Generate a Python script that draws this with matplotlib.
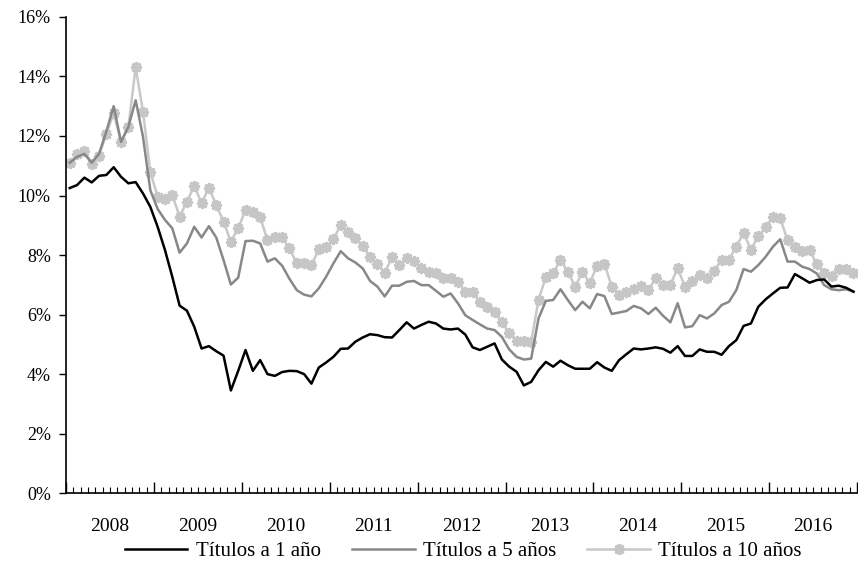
# Imports
import numpy as np
import matplotlib
matplotlib.use('Agg')
import matplotlib.pyplot as plt
import matplotlib.transforms as mtransforms
from matplotlib.ticker import FixedLocator, FuncFormatter

# Data (monthly, Jan 2008 - Dec 2016, %)
years = ['2008', '2009', '2010', '2011', '2012', '2013', '2014', '2015', '2016']

uno = [10.25, 10.35, 10.6, 10.44, 10.66, 10.69, 10.95, 10.63, 10.41, 10.45, 10.07, 9.62,
       8.95, 8.17, 7.27, 6.3, 6.13, 5.59, 4.86, 4.94, 4.77, 4.62, 3.45, 4.11,
       4.81, 4.11, 4.47, 4.0, 3.94, 4.07, 4.11, 4.10, 4.0, 3.68, 4.22, 4.39,
       4.58, 4.85, 4.86, 5.09, 5.23, 5.34, 5.31, 5.24, 5.23, 5.48, 5.74, 5.53,
       5.65, 5.76, 5.70, 5.53, 5.50, 5.53, 5.33, 4.90, 4.81, 4.92, 5.03, 4.49,
       4.25, 4.08, 3.62, 3.74, 4.13, 4.41, 4.25, 4.45, 4.30, 4.18, 4.18, 4.18,
       4.40, 4.22, 4.11, 4.47, 4.67, 4.86, 4.83, 4.86, 4.90, 4.85, 4.72, 4.94,
       4.61, 4.61, 4.83, 4.75, 4.75, 4.65, 4.94, 5.14, 5.62, 5.70, 6.26, 6.51,
       6.71, 6.90, 6.91, 7.36, 7.22, 7.07, 7.16, 7.18, 6.94, 6.97, 6.90, 6.77]

cinco = [11.1, 11.3, 11.4, 11.1, 11.4, 12.15, 13.0, 11.8, 12.3, 13.2, 11.98, 10.18,
         9.55, 9.18, 8.9, 8.08, 8.39, 8.95, 8.59, 8.97, 8.59, 7.83, 7.01, 7.24,
         8.47, 8.48, 8.39, 7.78, 7.89, 7.64, 7.2, 6.82, 6.67, 6.61, 6.88, 7.27,
         7.72, 8.13, 7.89, 7.75, 7.55, 7.13, 6.94, 6.61, 6.97, 6.97, 7.10, 7.13,
         6.99, 6.99, 6.80, 6.60, 6.71, 6.38, 5.98, 5.82, 5.67, 5.53, 5.48, 5.25,
         4.83, 4.58, 4.49, 4.52, 5.87, 6.46, 6.49, 6.85, 6.49, 6.15, 6.43, 6.21,
         6.69, 6.62, 6.02, 6.07, 6.12, 6.29, 6.21, 6.02, 6.23, 5.96, 5.74, 6.38,
         5.57, 5.61, 5.98, 5.87, 6.04, 6.32, 6.43, 6.82, 7.53, 7.44, 7.66, 7.94,
         8.28, 8.53, 7.78, 7.78, 7.61, 7.53, 7.38, 6.99, 6.85, 6.82, 6.85, 6.77]

diez = [11.08, 11.38, 11.51, 11.06, 11.34, 12.07, 12.76, 11.81, 12.29, 14.31, 12.82, 10.8,
        9.96, 9.87, 10.02, 9.29, 9.79, 10.33, 9.74, 10.26, 9.68, 9.12, 8.45, 8.9,
        9.51, 9.46, 9.27, 8.5, 8.62, 8.59, 8.22, 7.72, 7.72, 7.66, 8.19, 8.26,
        8.53, 9.01, 8.78, 8.56, 8.30, 7.94, 7.70, 7.41, 7.92, 7.66, 7.89, 7.80,
        7.55, 7.44, 7.41, 7.22, 7.24, 7.10, 6.77, 6.77, 6.41, 6.26, 6.09, 5.76,
        5.37, 5.12, 5.1, 5.09, 6.49, 7.27, 7.38, 7.85, 7.44, 6.94, 7.42, 7.07,
        7.63, 7.70, 6.94, 6.66, 6.77, 6.85, 6.96, 6.82, 7.22, 6.99, 7.01, 7.55,
        6.94, 7.13, 7.33, 7.22, 7.47, 7.85, 7.85, 8.28, 8.75, 8.17, 8.64, 8.93,
        9.29, 9.23, 8.50, 8.26, 8.15, 8.17, 7.69, 7.41, 7.29, 7.53, 7.53, 7.38]

labels = ['Títulos a 1 año', 'Títulos a 5 años', 'Títulos a 10 años']

# Style
plt.rcParams['font.family'] = ['Liberation Serif', 'DejaVu Serif']
plt.rcParams['font.size'] = 13

x = np.arange(len(uno))

# Plot
fig = plt.figure(figsize=(8.58, 5.63), dpi=100)
ax = fig.add_axes([0.077, 0.124, 0.922, 0.846])

ax.plot(x, diez, color='#c8c8c8', lw=1.8, marker=(8, 2, 0), markersize=8,
        markeredgewidth=2.0, markeredgecolor='#c6c6c6', label=labels[2], zorder=2)
ax.plot(x, cinco, color='#888888', lw=1.8, label=labels[1], zorder=3)
ax.plot(x, uno, color='black', lw=1.8, label=labels[0], zorder=4)

# Axes
ax.set_xlim(-0.5, len(uno) - 0.5)
ax.set_ylim(0, 16)
ax.set_yticks(np.arange(0, 17, 2))
ax.yaxis.set_major_formatter(FuncFormatter(lambda v, p: '{0:.0f}%'.format(v)))
ax.tick_params(axis='y', direction='out', length=5, width=1, pad=6)

ax.xaxis.set_major_locator(FixedLocator(np.arange(-0.5, len(uno), 12)))
ax.xaxis.set_minor_locator(FixedLocator(np.arange(-0.5, len(uno), 1)))
ax.tick_params(axis='x', which='major', direction='in', length=8, width=1, labelbottom=False)
ax.tick_params(axis='x', which='minor', direction='in', length=4, width=0.8)

for s in ['top', 'right']:
    ax.spines[s].set_visible(False)
for s in ['left', 'bottom']:
    ax.spines[s].set_linewidth(1.2)

# Year labels
trans = mtransforms.blended_transform_factory(ax.transData, ax.transAxes)
for k, yr in enumerate(years):
    ax.text(k * 12 + 5.5, -0.07, yr, transform=trans, ha='center', va='center', fontsize=14)

# Legend
fig.legend(loc='lower center', bbox_to_anchor=(0.54, -0.03), ncol=3, frameon=False,
           fontsize=15, handlelength=3.0, columnspacing=1.5, handletextpad=0.4,
           handles=[ax.lines[2], ax.lines[1], ax.lines[0]])

plt.savefig('out.png', dpi=100)
